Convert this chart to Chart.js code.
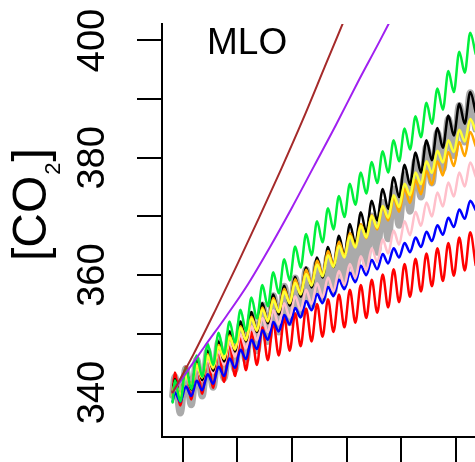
<!DOCTYPE html>
<html><head><meta charset="utf-8">
<script src="https://cdn.jsdelivr.net/npm/chart.js@4.4.1/dist/chart.umd.min.js"></script>
<style>html,body{margin:0;padding:0;background:#fff;overflow:hidden}canvas{display:block}</style>
</head><body>
<canvas id="c" width="475" height="462"></canvas>
<script>
// ---- data ----
const years = [1979,1980,1981,1982,1983,1984,1985,1986,1987,1988,1989,1990,1991,1992,1993,1994,1995,1996,1997,1998,1999,2000,2001,2002,2003,2004,2005,2006];
const startYear = 1979.1;
const peakPhase = 0.3, troughPhase = 0.8;

const greenStart = 338.3;
const greenPeaks   = [342.1,344.2,346.3,348.3,350.2,352.1,354.1,356.2,358.3,360.5,362.7,364.9,367.0,369.2,371.4,373.5,375.6,377.5,379.3,381.1,383.0,385.0,387.1,389.4,391.8,394.8,398.1,401.3];
const greenTroughs = [338.5,340.6,342.7,344.7,346.6,348.5,350.5,352.6,354.7,356.9,359.1,361.3,363.4,365.6,367.8,369.9,372.0,373.9,375.7,377.5,379.4,381.4,383.5,385.8,388.2,391.2,394.5,397.7];

const blackStart = 339.5;
const blackPeaks   = [342.3,343.9,345.5,347.1,348.7,350.4,352.1,353.7,355.2,356.7,358.2,359.7,361.3,363.0,364.8,366.7,368.7,370.7,372.7,374.7,376.7,378.8,380.9,383.0,385.1,387.2,389.2,391.2];
const blackTroughs = [338.9,340.5,342.1,343.7,345.3,347.0,348.7,350.3,351.8,353.3,354.8,356.3,357.9,359.6,361.4,363.3,365.3,367.3,369.3,371.3,373.3,375.4,377.5,379.6,381.7,383.8,385.8,387.8];

const greyStart = 339.5;
const greyPeaks   = [342.7,344.1,345.6,347.1,348.6,350.1,351.7,353.3,354.9,356.5,358.1,359.5,360.9,362.1,363.3,364.7,366.3,368.1,370.1,372.4,374.7,377.1,379.5,381.9,384.3,386.6,388.9,391.1];
const greyTroughs = [336.5,337.9,339.4,340.9,342.4,343.9,345.5,347.1,348.7,350.3,351.9,353.3,354.7,355.9,357.1,358.5,360.1,361.9,363.9,366.2,368.5,370.9,373.3,375.7,378.1,380.4,382.7,384.9];

const yellowStart = 339.5;
const yellowPeaks   = [341.5,343.0,344.6,346.2,347.8,349.4,351.0,352.6,354.2,355.7,357.2,358.7,360.2,361.8,363.4,365.0,366.7,368.4,370.1,371.8,373.6,375.6,377.5,379.4,381.2,383.0,384.8,386.6];
const yellowTroughs = [339.5,341.0,342.6,344.2,345.8,347.4,349.0,350.6,352.2,353.7,355.2,356.7,358.2,359.8,361.4,363.0,364.7,366.4,368.1,369.8,371.6,373.6,375.5,377.4,379.2,381.0,382.8,384.6];

const orangeStart = 339.5;
const orangePeaks   = [341.7,343.3,344.9,346.5,348.1,349.7,351.3,352.9,354.5,356.1,357.7,359.3,360.9,362.5,364.1,365.7,367.2,368.7,370.2,371.7,373.2,374.7,376.2,377.8,379.4,381.0,382.7,384.4];
const orangeTroughs = [339.3,340.9,342.5,344.1,345.7,347.3,348.9,350.5,352.1,353.7,355.3,356.9,358.5,360.1,361.7,363.3,364.8,366.3,367.8,369.3,370.8,372.3,373.8,375.4,377.0,378.6,380.3,382.0];

const pinkStart = 339.5;
const pinkPeaks   = [341.5,342.9,344.3,345.7,347.1,348.5,349.9,351.3,352.7,354.0,355.2,356.4,357.5,358.6,359.6,360.7,361.9,363.2,364.6,366.1,367.6,369.2,370.8,372.4,374.1,375.8,377.5,379.2];
const pinkTroughs = [339.1,340.5,341.9,343.3,344.7,346.1,347.5,348.9,350.3,351.6,352.8,354.0,355.1,356.2,357.2,358.3,359.5,360.8,362.2,363.7,365.2,366.8,368.4,370.0,371.7,373.4,375.1,376.8];

const blueStart = 338.5;
const bluePeaks   = [340.0,341.0,342.0,343.1,344.4,345.8,347.3,349.0,350.6,352.0,353.2,354.4,355.6,356.8,358.0,359.2,360.4,361.6,362.6,363.6,364.6,365.5,366.4,367.4,368.5,369.8,371.2,372.7];
const blueTroughs = [338.4,339.4,340.4,341.5,342.8,344.2,345.7,347.4,349.0,350.4,351.6,352.8,354.0,355.2,356.4,357.6,358.8,360.0,361.0,362.0,363.0,363.9,364.8,365.8,366.9,368.2,369.6,371.1];

const redStart = 340.0;
const redPeaks   = [343.4,344.4,345.4,346.4,347.4,348.4,349.4,350.3,351.1,351.9,352.7,353.5,354.3,355.1,355.9,356.7,357.5,358.3,359.2,360.1,361.0,361.9,362.8,363.7,364.6,365.5,366.4,367.3];
const redTroughs = [337.8,338.8,339.8,340.8,341.8,342.8,343.8,344.7,345.5,346.3,347.1,347.9,348.7,349.5,350.3,351.1,351.9,352.7,353.6,354.5,355.4,356.3,357.2,358.1,359.0,359.9,360.8,361.7];

const brownYears  = [1979.1,1981,1983,1985,1987,1989,1991,1993,1995,1997];
const brownValues = [340.0,346.5,354.0,361.8,369.8,378.0,386.5,395.5,404.5,414.0];
const purpleYears  = [1979.1,1980.2,1982,1984,1986,1988,1990,1992,1994,1996,1998,2000];
const purpleValues = [340.0,343.0,347.8,353.0,358.5,364.8,371.5,378.5,385.5,392.8,399.8,407.0];

const yTicks = [340,350,360,370,380,390,400];
const yLabelled = [340,360,380,400];
const xTicks = [1980,1985,1990,1995,2000,2005];
const stationLabel = 'MLO';

// ---- build ----
function seasonal(start, peaks, troughs) {
  const pts = [{x: startYear, y: start}];
  for (let i = 0; i < years.length; i++) {
    pts.push({x: years[i] + peakPhase, y: peaks[i]});
    pts.push({x: years[i] + troughPhase, y: troughs[i]});
  }
  return pts;
}
function pairs(xs, ys) { return xs.map((x, i) => ({x, y: ys[i]})); }

function ds(data, color, width) {
  return {data, borderColor: color, borderWidth: width, pointRadius: 0,
    fill: false, cubicInterpolationMode: 'monotone', borderJoinStyle: 'round', borderCapStyle: 'round'};
}

const datasets = [
  ds(pairs(brownYears, brownValues), '#a52a2a', 2),
  ds(pairs(purpleYears, purpleValues), '#a020f0', 2),
  ds(seasonal(greenStart, greenPeaks, greenTroughs), '#00f03c', 2.5),
  ds(seasonal(yellowStart, yellowPeaks, yellowTroughs), '#ffff33', 2.5),
  ds(seasonal(orangeStart, orangePeaks, orangeTroughs), '#ffa500', 2.5),
  ds(seasonal(blackStart, blackPeaks, blackTroughs), '#000000', 2.5),
  ds(seasonal(pinkStart, pinkPeaks, pinkTroughs), '#ffc0cb', 2.5),
  ds(seasonal(blueStart, bluePeaks, blueTroughs), '#0000ff', 2.5),
  ds(seasonal(redStart, redPeaks, redTroughs), '#ff0000', 2.5),
  ds(seasonal(greyStart, greyPeaks, greyTroughs), '#aaaaaa', 7)
];

const FONT = "'Liberation Sans', Arial, Helvetica, sans-serif";

const textPlugin = {
  id: 'texts',
  afterDraw(chart) {
    const ctx = chart.ctx;
    ctx.save();
    ctx.fillStyle = '#000';
    ctx.textBaseline = 'alphabetic';
    ctx.textAlign = 'left';
    ctx.font = '37px ' + FONT;
    ctx.fillText(stationLabel, 207, 54);
    // y axis title [CO2] rotated
    ctx.translate(46, 261);
    ctx.rotate(-Math.PI / 2);
    ctx.font = '48px ' + FONT;
    const a = '[CO';
    ctx.fillText(a, 0, 0);
    let w = ctx.measureText(a).width;
    ctx.font = '22px ' + FONT;
    ctx.fillText('2', w + 1, 14);
    w += ctx.measureText('2').width + 2;
    ctx.font = '48px ' + FONT;
    ctx.fillText(']', w, 0);
    ctx.restore();
  }
};

new Chart(document.getElementById('c'), {
  type: 'line',
  data: {datasets},
  plugins: [textPlugin],
  options: {
    responsive: false,
    animation: false,
    events: [],
    layout: {padding: {top: 24, left: 0, right: 0, bottom: 0}},
    plugins: {legend: {display: false}, tooltip: {enabled: false}, title: {display: false}},
    scales: {
      x: {
        type: 'linear',
        min: 1978.126, max: 2006.737,
        afterFit(s) { s.height = 25; s.paddingLeft = 0; s.paddingRight = 0; s.paddingTop = 0; s.paddingBottom = 0; },
        afterBuildTicks(s) { s.ticks = xTicks.map(v => ({value: v})); },
        grid: {drawOnChartArea: false, drawTicks: true, tickLength: 25, color: '#000', lineWidth: 2},
        border: {display: true, color: '#000', width: 2},
        ticks: {display: false}
      },
      y: {
        type: 'linear',
        min: 332.41, max: 402.81,
        afterFit(s) { s.width = 162; s.paddingTop = 0; s.paddingBottom = 0; s.paddingLeft = 0; s.paddingRight = 0; },
        afterBuildTicks(s) { s.ticks = yTicks.map(v => ({value: v})); },
        grid: {drawOnChartArea: false, drawTicks: true, tickLength: 25, color: '#000', lineWidth: 2},
        border: {display: true, color: '#000', width: 2},
        ticks: {
          autoSkip: false, minRotation: 90, maxRotation: 90, crossAlign: 'center', padding: 12,
          color: '#000', font: {family: FONT, size: 38},
          callback: v => (yLabelled.includes(v) ? String(v) : '')
        }
      }
    }
  }
});
</script>
</body></html>
